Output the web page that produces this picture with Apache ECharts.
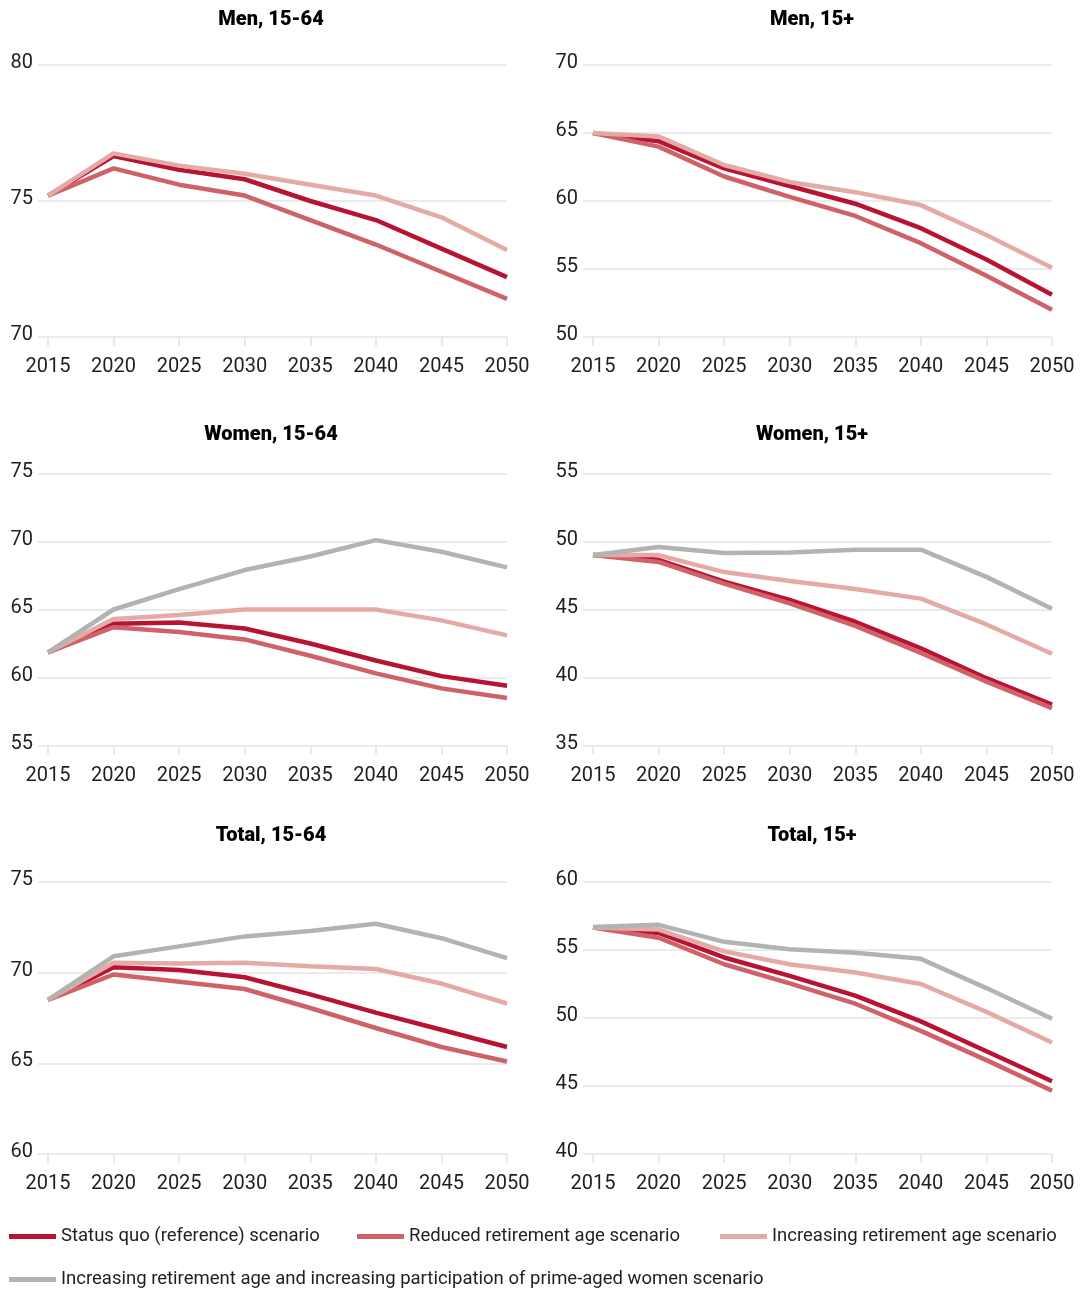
<!DOCTYPE html>
<html>
<head>
<meta charset="utf-8">
<title>Employment rate scenarios, 2015-2050</title>
<script src="https://cdn.jsdelivr.net/npm/echarts@6/dist/echarts.min.js"></script>
<style>
  html, body { margin: 0; padding: 0; background: #ffffff; }
  #chart { width: 1082px; height: 1290px; }
</style>
</head>
<body>
<div id="chart"></div>
<script>
// Projection years shared by every panel
const years = [2015, 2020, 2025, 2030, 2035, 2040, 2045, 2050];

// Scenario names (legend order = drawing order)
const scenarioNames = [
  'Status quo (reference) scenario',
  'Reduced retirement age scenario',
  'Increasing retirement age scenario',
  'Increasing retirement age and increasing participation of prime-aged women scenario'
];

// Men, 15-64
const menWorkStatusQuo  = [75.2, 76.65, 76.15, 75.8, 75.0, 74.3, 73.25, 72.2];
const menWorkReduced    = [75.2, 76.2, 75.6, 75.2, 74.3, 73.4, 72.4, 71.4];
const menWorkIncreasing = [75.2, 76.75, 76.3, 76.0, 75.6, 75.2, 74.4, 73.2];

// Men, 15+
const menAllStatusQuo  = [65.0, 64.4, 62.4, 61.1, 59.8, 58.0, 55.7, 53.1];
const menAllReduced    = [65.0, 64.0, 61.8, 60.3, 58.9, 56.9, 54.5, 52.0];
const menAllIncreasing = [65.0, 64.75, 62.65, 61.4, 60.65, 59.7, 57.5, 55.1];

// Women, 15-64
const womenWorkStatusQuo  = [61.85, 63.95, 64.05, 63.6, 62.5, 61.25, 60.1, 59.4];
const womenWorkReduced    = [61.85, 63.7, 63.35, 62.8, 61.6, 60.3, 59.2, 58.5];
const womenWorkIncreasing = [61.85, 64.3, 64.6, 65.0, 65.0, 65.0, 64.2, 63.1];
const womenWorkWomenPart  = [61.85, 65.0, 66.5, 67.9, 68.9, 70.1, 69.25, 68.1];

// Women, 15+
const womenAllStatusQuo  = [49.0, 48.65, 47.05, 45.7, 44.1, 42.15, 39.95, 38.0];
const womenAllReduced    = [49.0, 48.5, 46.9, 45.45, 43.8, 41.8, 39.7, 37.75];
const womenAllIncreasing = [49.0, 49.0, 47.75, 47.1, 46.5, 45.8, 43.9, 41.75];
const womenAllWomenPart  = [49.0, 49.6, 49.15, 49.2, 49.4, 49.4, 47.4, 45.05];

// Total, 15-64
const totalWorkStatusQuo  = [68.5, 70.3, 70.15, 69.75, 68.8, 67.8, 66.85, 65.9];
const totalWorkReduced    = [68.5, 69.9, 69.5, 69.1, 68.05, 66.95, 65.9, 65.1];
const totalWorkIncreasing = [68.5, 70.55, 70.5, 70.55, 70.35, 70.2, 69.4, 68.3];
const totalWorkWomenPart  = [68.5, 70.9, 71.45, 72.0, 72.3, 72.7, 71.9, 70.8];

// Total, 15+
const totalAllStatusQuo  = [56.65, 56.25, 54.45, 53.1, 51.65, 49.75, 47.55, 45.35];
const totalAllReduced    = [56.65, 55.9, 53.95, 52.55, 51.05, 49.05, 46.9, 44.65];
const totalAllIncreasing = [56.65, 56.5, 54.9, 53.95, 53.35, 52.5, 50.45, 48.2];
const totalAllWomenPart  = [56.7, 56.85, 55.6, 55.05, 54.8, 54.35, 52.2, 49.95];

// Panel titles and value-axis ranges
const panelTitles = ['Men, 15-64', 'Men, 15+', 'Women, 15-64', 'Women, 15+', 'Total, 15-64', 'Total, 15+'];
const axisMin = [70, 50, 55, 35, 60, 40];
const axisMax = [80, 70, 75, 55, 75, 60];

const panelSeries = [
  [menWorkStatusQuo, menWorkReduced, menWorkIncreasing, null],
  [menAllStatusQuo, menAllReduced, menAllIncreasing, null],
  [womenWorkStatusQuo, womenWorkReduced, womenWorkIncreasing, womenWorkWomenPart],
  [womenAllStatusQuo, womenAllReduced, womenAllIncreasing, womenAllWomenPart],
  [totalWorkStatusQuo, totalWorkReduced, totalWorkIncreasing, totalWorkWomenPart],
  [totalAllStatusQuo, totalAllReduced, totalAllIncreasing, totalAllWomenPart]
];

const scenarioColors = ['#b91334', '#cf6168', '#e4aaa6', '#b3b3b3'];
const FONT = 'Roboto, "Noto Sans", sans-serif';

// Layout of the 2 x 3 grid of small multiples
const colLeft = [38, 583];
const plotWidth = 469;
const rowTop = [65, 473.5, 882];
const plotHeight = 272;
const titleCenter = [271, 812];
const titleTop = [10, 425, 826];

const grids = [], xAxes = [], yAxes = [], series = [], titles = [];

panelTitles.forEach((name, i) => {
  const col = i % 2, row = Math.floor(i / 2);
  grids.push({
    left: colLeft[col], top: rowTop[row], width: plotWidth, height: plotHeight,
    containLabel: false, outerBoundsMode: 'none'
  });
  titles.push({
    text: name,
    left: titleCenter[col], top: titleTop[row], textAlign: 'center', padding: 0,
    textStyle: { fontFamily: FONT, fontSize: 20, fontWeight: 900, color: '#000' }
  });
  xAxes.push({
    type: 'value', gridIndex: i,
    min: 2014.24, max: 2050,
    axisLine: { show: false },
    splitLine: { show: false },
    axisTick: {
      show: true, customValues: years, length: 9, inside: false,
      lineStyle: { color: '#e3e3e3', width: 1.5 }
    },
    axisLabel: {
      customValues: years, formatter: v => String(v),
      fontFamily: FONT, fontSize: 20, color: '#1f1f1f', margin: 20
    }
  });
  yAxes.push({
    type: 'value', gridIndex: i,
    min: axisMin[i], max: axisMax[i], interval: 5,
    axisLine: { show: false },
    axisTick: { show: false },
    splitLine: { show: true, lineStyle: { color: '#ebebeb', width: 2 } },
    axisLabel: { fontFamily: FONT, fontSize: 20, color: '#1f1f1f', margin: 5, verticalAlign: 'bottom', padding: [0, 0, -8, 0] }
  });
  panelSeries[i].forEach((values, s) => {
    if (!values) return;
    series.push({
      type: 'line', name: scenarioNames[s],
      xAxisIndex: i, yAxisIndex: i,
      data: years.map((y, k) => [y, values[k]]),
      showSymbol: false, symbol: 'none',
      color: scenarioColors[s],
      lineStyle: { width: 4.5, color: scenarioColors[s] },
      z: 2 + s,
      animation: false
    });
  });
});

// One legend block per scenario so the items sit in fixed places
const legendLeft = [9, 357, 720, 9];
const legendTop = [1227, 1227, 1227, 1270];
const legends = scenarioNames.map((n, s) => ({
  data: [n],
  left: legendLeft[s], top: legendTop[s], padding: 0,
  icon: 'rect', itemWidth: 47, itemHeight: 5,
  selectedMode: false,
  textStyle: { fontFamily: FONT, fontSize: 18.5, color: '#1f1f1f' }
}));

const chart = echarts.init(document.getElementById('chart'), null, { renderer: 'canvas' });
chart.setOption({
  backgroundColor: '#ffffff',
  animation: false,
  title: titles,
  legend: legends,
  grid: grids,
  xAxis: xAxes,
  yAxis: yAxes,
  series: series
});
</script>
</body>
</html>
